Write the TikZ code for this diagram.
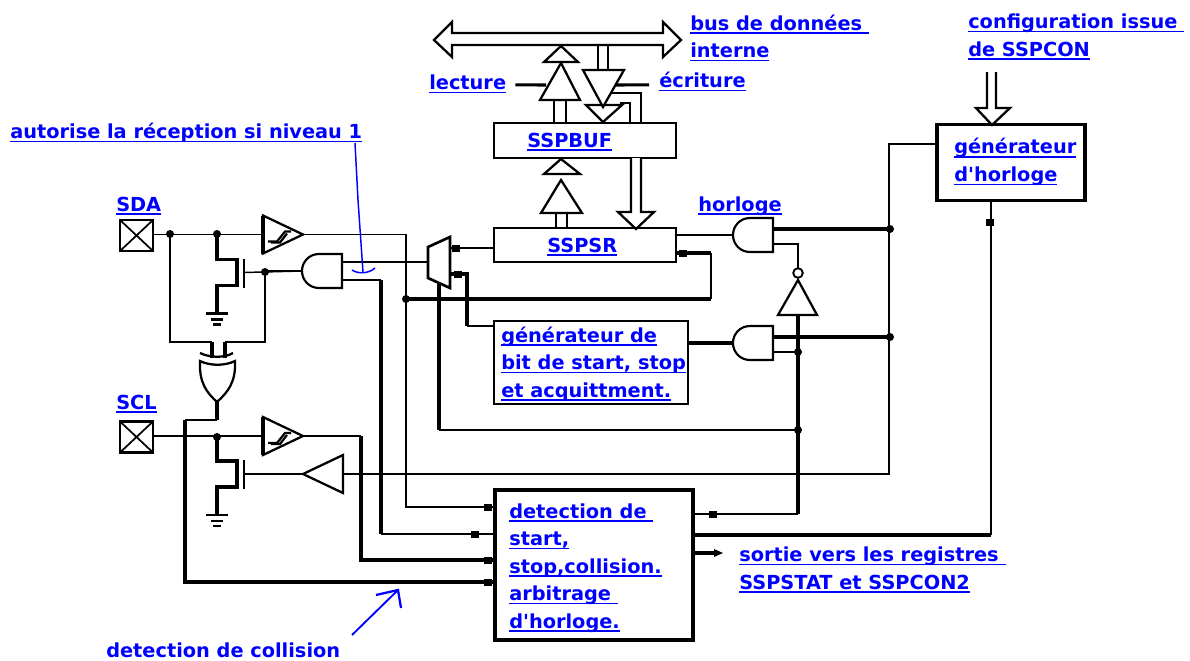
\documentclass[tikz,border=0pt]{standalone}
\usepackage{fontspec}
\setmainfont{DejaVu Sans}
\usepackage{xcolor}
\usetikzlibrary{arrows.meta, positioning, calc}
\definecolor{linkblue}{RGB}{0,0,255}
\newcommand{\ul}[1]{\setbox0\hbox{#1}\rlap{\rule[-2.8pt]{\wd0}{1.1pt}}\box0}
\tikzset{
  wire/.style={line width=1.1pt},
  bigwire/.style={line width=2.3pt},
  boxthin/.style={draw, line width=1.6pt, inner sep=0pt},
  boxbig/.style={draw, line width=2.4pt, inner sep=0pt},
  lbl/.style={text=linkblue, anchor=west, inner sep=0pt, align=left, yshift=-1.4pt, font=\bfseries\fontsize{14.5}{20.6}\selectfont},
  hollow/.style={draw, fill=white, line width=1.7pt, line join=miter},
  note/.style={linkblue, line width=1.1pt},
  andgate/.pic={
    \draw[line width=1.6pt] (40,-17) -- (17,-17) .. controls (7,-17) and (0,-9) .. (0,0)
      .. controls (0,9) and (7,17) .. (17,17) -- (40,17) -- cycle;
    \coordinate (-out) at (0,0);
    \coordinate (-up) at (40,-6);
    \coordinate (-down) at (40,9);
  },
  bufgate/.pic={
    \draw[line width=1.7pt] (0,-19) -- (40,0) -- (0,19) -- cycle;
    \draw[line width=2.6pt] (0,-19) -- (0,19);
    \draw[line width=1.7pt] (5,7) -- (14,7) -- (22,-3) -- (28,-3);
    \draw[line width=1.7pt] (8,8) -- (17,8) -- (24,-1);
    \coordinate (-in) at (0,0);
    \coordinate (-out) at (40,0);
  },
  padcell/.pic={
    \draw[line width=2.2pt] (0,0) rectangle (33,31);
    \draw[line width=1.3pt] (0,0) -- (33,31) (33,0) -- (0,31);
    \coordinate (-out) at (33,14.5);
  },
  nmoscell/.pic={
    \draw[bigwire] (0,0) -- (0,25) -- (20,25) -- (20,51) -- (0,51) -- (0,79);
    \draw[line width=2pt] (27,24) -- (27,53);
    \draw[line width=2pt] (-11,79) -- (11,79);
    \draw[line width=1.6pt] (-6,85) -- (6,85);
    \draw[line width=1.6pt] (-4,90) -- (4,90);
    \coordinate (-gate) at (27,38);
  },
}
\begin{document}
\begin{tikzpicture}[x=0.75pt, y=-0.75pt]
  \useasboundingbox (0,0) rectangle (1190,661);
  % blocks
  \node[boxthin, minimum width=136.5pt, minimum height=26pt] (sspbuf) at (585,140.5) {};
  \node[boxthin, minimum width=136.5pt, minimum height=25pt] (sspsr) at (585,245) {};
  \node[boxthin, minimum width=145.5pt, minimum height=62pt] (startgen) at (591,362.5) {};
  \node[boxbig, minimum width=148.5pt, minimum height=112.5pt] (detect) at (594,565) {};
  \node[boxbig, minimum width=111pt, minimum height=56.5pt] (clockgen) at (1011,162.5) {};
  % pads and gates
  \pic (sda) at (120,220) {padcell};
  \pic (scl) at (120,421.5) {padcell};
  \pic (txa) at (217,234.5) {nmoscell};
  \pic (txb) at (217,436) {nmoscell};
  \pic (rxa) at (263,234.5) {bufgate};
  \pic (rxb) at (263,436) {bufgate};
  \pic (anda) at (302,271) {andgate};
  \pic (andb) at (733,235) {andgate};
  \pic (andc) at (733,343) {andgate};
  \draw[line width=1.7pt] (343,455) -- (343,493) -- (303,474) -- cycle;
  \coordinate (txdrv) at (303,474);
  \coordinate (txdrvin) at (343,474);
  % mux
  \draw[line width=2pt] (428,247) -- (450,237) -- (450,288) -- (428,278) -- cycle;
  \coordinate (muxin) at (428,262);
  \coordinate (muxa) at (450,248);
  \coordinate (muxb) at (450,274);
  \coordinate (muxsel) at (439,283);
  \coordinate (andamux) at (342,262);
  % xor
  \draw[line width=1.7pt] (200,361) .. controls (210,366) and (225,366) .. (235,361)
    .. controls (236,382) and (228,392) .. (217,402)
    .. controls (206,392) and (199,382) .. (200,361) -- cycle;
  \draw[line width=1.7pt] (200,353) .. controls (210,358) and (225,358) .. (233,353);
  \coordinate (xorout) at (217,402);
  \coordinate (xorina) at (212,342);
  \coordinate (xorinb) at (225,342);
  % inverter
  \draw[line width=1.7pt] (798,280) -- (817,315) -- (778,315) -- cycle;
  \draw[line width=1.4pt] (798,273) circle (3.6pt);
  \coordinate (invout) at (798,268);
  \coordinate (invin) at (798,315);
  % pad side wires
  \draw[wire] (sda-out) -- (rxa-in);
  \draw[wire] (scl-out) -- (rxb-in);
  \draw[line width=1.5pt] (170,234) -- (170,342) -- (xorina);
  \draw[line width=1.5pt] (anda-out) -- (265,271) -- (265,342) -- (xorinb);
  \draw[bigwire] (xorina) -- (212,358);
  \draw[bigwire] (xorinb) -- (225,358);
  \draw[wire] (txa-gate) -- (anda-out);
  \draw[wire] (txb-gate) -- (txdrv);
  % wires into the detection block
  \coordinate (deta) at (495,507);
  \coordinate (detb) at (495,534);
  \coordinate (detc) at (495,560);
  \coordinate (detd) at (495,582);
  \draw[wire] (rxa-out) -- (406,234.5) -- (406,507) -- (deta);
  \draw[line width=1.7pt] (anda-down) -- (381,280);
  \draw[bigwire] (381,280) -- (381,534);
  \draw[wire] (381,534) -- (detb);
  \draw[wire] (rxb-out) -- (361,436);
  \draw[bigwire] (361,436) -- (361,560) -- (detc);
  \draw[bigwire] (xorout) -- (217,420);
  \draw[wire] (217,420) -- (185,420);
  \draw[bigwire] (185,420) -- (185,582) -- (detd);
  % mux wires
  \draw[wire] (andamux) -- (muxin);
  \draw[wire] (sspsr.west |- muxa) -- (muxa);
  \draw[bigwire] (muxb) -- (467,274) -- (467,326);
  \draw[wire] (467,326) -- (startgen.west |- 0,326);
  \draw[bigwire] (muxsel) -- (439,430);
  \draw[wire] (439,430) -- (798,430);
  \draw[bigwire] (406,299) -- (711,299);
  \draw[line width=1.5pt] (711,299) -- (711,253);
  \draw[bigwire] (711,253) -- (sspsr.east |- 0,253);
  % clock logic
  \draw[wire] (sspsr.east |- andb-out) -- (andb-out);
  \draw[bigwire] (andb-up) -- (andb-up -| 890,0);
  \draw[wire] (andb-down) -- (798,244) -- (invout);
  \draw[bigwire] (startgen.east |- andc-out) -- (andc-out);
  \draw[bigwire] (andc-up) -- (andc-up -| 890,0);
  \draw[wire] (andc-down) -- (andc-down -| 798,0);
  \draw[bigwire] (invin) -- (798,514);
  \draw[wire] (798,514) -- (detect.east |- 0,514);
  \draw[wire] (clockgen.west |- 0,144) -- (889,144) -- (889,474) -- (txdrvin);
  \draw[wire] (clockgen.south -| 991,0) -- (991,535);
  \draw[bigwire] (991,535) -- (detect.east |- 0,535);
  \draw[bigwire] (detect.east |- 0,553) -- (716,553);
  \fill (723,553) -- (714,549) -- (714,557) -- cycle;
  % junctions
  \foreach \p in {(170,234), (217,234), (265,272), (217,437), (406,299), (798,352), (798,430), (890,229), (890,337)} {
    \fill \p circle (3pt);
  }
  % arrow stubs
  \foreach \p in {(456,248), (458,274), (683,253), (488,507), (475,534), (488,560), (488,582), (713,514), (990,222)} {
    \fill \p +(-4,-3.5) rectangle +(4,3.5);
  }
  % bus
  \draw[hollow] (434,40) -- (452,22) -- (452,33) -- (663,33) -- (663,22) -- (681,40)
    -- (663,57) -- (663,45) -- (452,45) -- (452,57) -- cycle;
  \draw[wire] (598,45) -- (598,70);
  \draw[wire] (608,45) -- (608,70);
  % reading side
  \draw[hollow] (561,46) -- (578,62) -- (544,62) -- cycle;
  \draw[hollow] (561,63) -- (580,100) -- (540,100) -- cycle;
  \draw[wire] (554,100) -- (554,122);
  \draw[wire] (566,100) -- (566,122);
  \draw[hollow] (561,159) -- (580,174) -- (544,174) -- cycle;
  \draw[hollow] (561,180) -- (582,213) -- (541,213) -- cycle;
  \draw[wire] (556,213) -- (556,228);
  \draw[wire] (567,213) -- (567,228);
  % writing side
  \draw[hollow] (586,105) -- (622,105) -- (603,122) -- cycle;
  \draw[hollow] (583,70) -- (624,70) -- (603,107) -- cycle;
  \draw[wire] (612,93) -- (641,93) -- (641,122);
  \draw[wire] (620,103) -- (630,103) -- (630,122);
  \draw[hollow] (631,158) -- (631,212) -- (618,212) -- (636,229) -- (654,212) -- (641,212) -- (641,158);
  % config arrow
  \draw[hollow] (987,72) -- (987,108) -- (976,108) -- (992,125) -- (1010,108) -- (996,108) -- (996,72);
  % labels
  \node[lbl] (lbus) at (690,36) {\ul{bus de données\ }\\\ul{interne}};
  \node[lbl] (lconf) at (968,35) {\ul{configuration issue\ }\\\ul{de SSPCON}};
  \node[lbl] (llect) at (429,82) {\ul{lecture}};
  \node[lbl] (lecr) at (659,80) {\ul{écriture}};
  \draw[bigwire] (llect.east) ++(9,1) -- (546,85);
  \draw[bigwire] (lecr.west) ++(-10,3) -- (615,85);
  \node[lbl] (lauto) at (10,131) {\ul{autorise la réception si niveau 1}};
  \node[lbl] (lsda) at (116,204) {\ul{SDA}};
  \node[lbl] (lscl) at (116,402) {\ul{SCL}};
  \node[lbl] (lbuf) at (527,140) {\ul{SSPBUF}};
  \node[lbl] (lsr) at (547,245) {\ul{SSPSR}};
  \node[lbl] (lhor) at (698,204) {\ul{horloge}};
  \node[lbl] (lclock) at (954,160) {\ul{générateur}\\\ul{d\textquotesingle horloge}};
  \node[lbl] (lstart) at (501,362) {\ul{générateur de}\\\ul{bit de start, stop}\\\ul{et acquittment.}};
  \node[lbl] (ldet) at (509,566) {\ul{detection de\ }\\\ul{start,}\\\ul{stop,collision.}\\\ul{arbitrage\ }\\\ul{d\textquotesingle horloge.}};
  \node[lbl] (lout) at (739,568) {\ul{sortie vers les registres\ }\\\ul{SSPSTAT et SSPCON2}};
  \node[lbl] (lcoll) at (106,648) {detection de collision};
  % blue notes
  \draw[note] (lauto.south -| 355,0) -- (358,200) -- (363,272);
  \draw[note] (352,270) .. controls (358,274) and (368,274) .. (375,268);
  \draw[note, line width=1.4pt] (352,635) -- (398,590);
  \draw[note, line width=1.7pt] (376,595) -- (398,590) -- (401,608);
\end{tikzpicture}
\end{document}
